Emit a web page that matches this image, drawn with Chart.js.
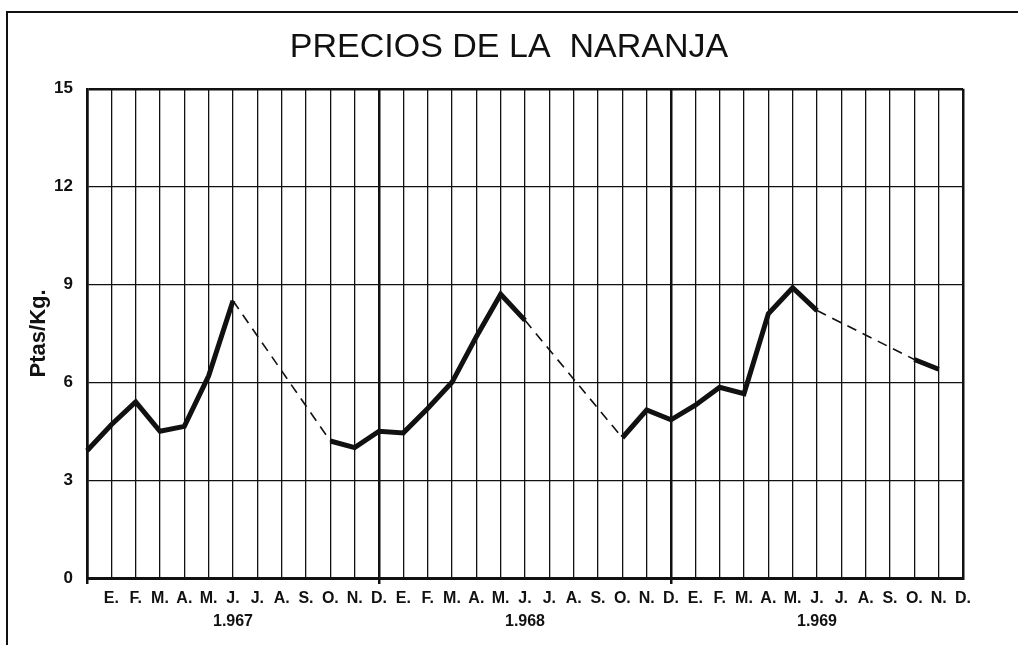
<!DOCTYPE html>
<html>
<head>
<meta charset="utf-8">
<script src="https://cdn.jsdelivr.net/npm/chart.js@4/dist/chart.umd.min.js"></script>
<style>
    body { margin: 0; background: #fff; overflow: hidden; }
    #wrap { position: relative; width: 1018px; height: 645px; }
    #marco { position: absolute; left: 6px; top: 11px; width: 1030px; height: 660px;
             border-left: 2px solid #111; border-top: 2px solid #111; }
    canvas { position: absolute; left: 0; top: 0; }
</style>
</head>
<body>
<div id="wrap">
    <div id="marco"></div>
    <canvas id="chart-naranja" width="1018" height="645"></canvas>
</div>
<script>
// meses de cada año y años del eje
var meses = ['E.', 'F.', 'M.', 'A.', 'M.', 'J.', 'J.', 'A.', 'S.', 'O.', 'N.', 'D.'];
var anios = ['1.967', '1.968', '1.969'];

// precio en Ptas/Kg, desde diciembre 1.966 hasta diciembre 1.969 (null = sin dato)
var precios = [
    3.9,
    4.7, 5.4, 4.5, 4.65, 6.2, 8.5, null, null, null, 4.2, 4.0, 4.5,
    4.45, 5.2, 6.0, 7.4, 8.7, 7.9, null, null, null, 4.3, 5.15, 4.85,
    5.3, 5.85, 5.65, 8.1, 8.9, 8.2, null, null, null, 6.7, 6.4, null
];

var yTicks = [0, 3, 6, 9, 12, 15];

var labels = [''];
anios.forEach(function (anio) {
    meses.forEach(function (mes, m) {
        // el año va debajo de junio
        labels.push(m == 5 ? [mes, anio] : mes);
    });
});

var negro = '#111';

// tramo que salta meses sin dato
function esHueco(c) {
    return precios[c.p0DataIndex] == null || precios[c.p1DataIndex - 1] == null;
}

const ctx = document.getElementById('chart-naranja').getContext('2d');
new Chart(ctx, {
    type: 'line',
    data: {
        labels: labels,
        datasets: [{
            label: 'Precios',
            data: precios,
            borderColor: negro,
            borderWidth: 5,
            pointRadius: 0,
            tension: 0,
            spanGaps: true,
            segment: {
                borderDash: c => esHueco(c) ? [10, 7] : undefined,
                borderWidth: c => esHueco(c) ? 1.6 : undefined
            }
        }]
    },
    options: {
        responsive: false,
        animation: false,
        layout: { padding: { left: 0, right: 0, top: 0, bottom: 0 } },
        plugins: {
            legend: { display: false },
            tooltip: { enabled: false },
            title: {
                display: true,
                text: 'PRECIOS DE LA  NARANJA',
                color: negro,
                font: { family: 'Liberation Sans', size: 34, weight: 'normal', lineHeight: 1.2 },
                padding: { top: 27, bottom: 21 }
            }
        },
        scales: {
            x: {
                type: 'category',
                offset: false,
                afterFit: function (scale) { scale.height = 67; },
                grid: {
                    color: negro,
                    lineWidth: c => (c.index % 12 == 0) ? 2.5 : 1.3,
                    drawTicks: true,
                    tickLength: 6,
                    tickColor: c => (c.index % 12 == 0 && c.index < 36) ? negro : 'rgba(0,0,0,0)'
                },
                border: { display: true, color: negro, width: 3 },
                ticks: {
                    autoSkip: false,
                    maxRotation: 0,
                    color: negro,
                    padding: 3,
                    font: { family: 'Liberation Sans', size: 16, weight: 'bold', lineHeight: 1.45 }
                }
            },
            y: {
                min: 0,
                max: 15,
                afterFit: function (scale) { scale.width = 87; },
                afterBuildTicks: function (scale) {
                    scale.ticks = yTicks.map(v => ({ value: v }));
                },
                grid: {
                    color: negro,
                    lineWidth: c => (c.tick && c.tick.value == 15) ? 2.5 : 1.3,
                    drawTicks: false
                },
                border: { display: true, color: negro, width: 2.5 },
                ticks: {
                    color: negro,
                    padding: 14,
                    font: { family: 'Liberation Sans', size: 17, weight: 'bold' }
                },
                title: {
                    display: true,
                    text: 'Ptas/Kg.',
                    color: negro,
                    font: { family: 'Liberation Sans', size: 22, weight: 'bold', lineHeight: 1.2 },
                    padding: { top: 26, bottom: 0 }
                }
            },
            // margen derecho vacío, así el título queda centrado en la página
            margen: {
                position: 'right',
                display: true,
                afterFit: function (scale) { scale.width = 55; },
                grid: { display: false },
                border: { display: false },
                ticks: { display: false }
            }
        }
    }
});
</script>
</body>
</html>
